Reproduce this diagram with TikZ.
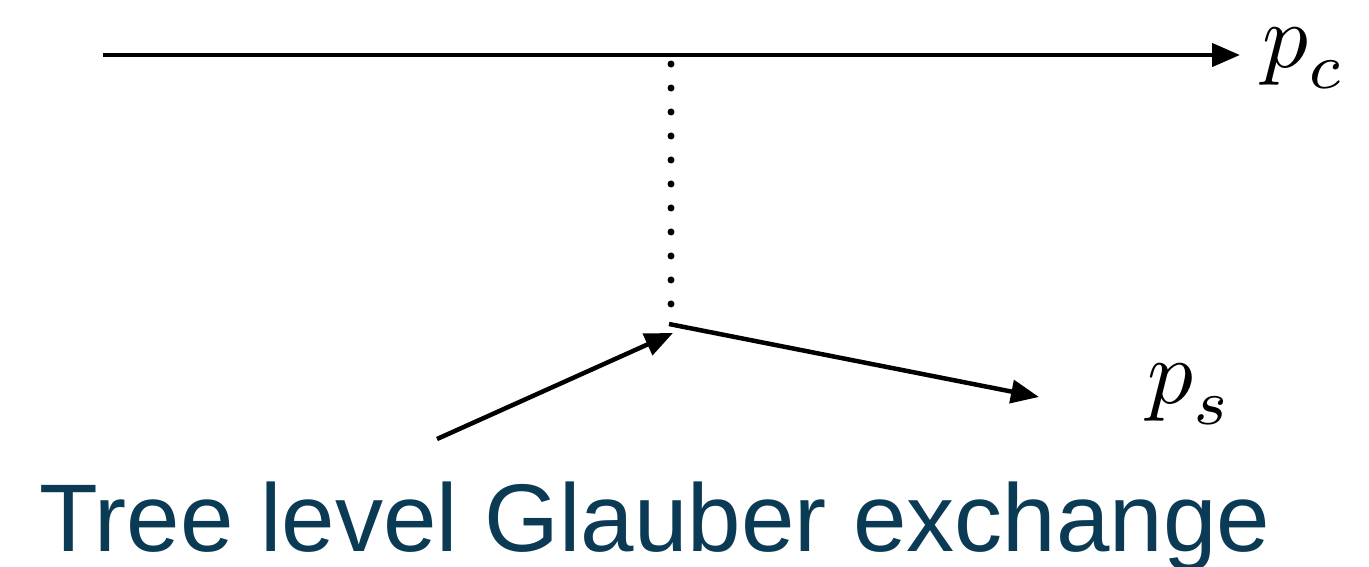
\documentclass[tikz,border=0pt]{standalone}
\usepackage{fontspec}
\setmainfont{Liberation Sans}
\usepackage{graphicx}
\usepackage{xcolor}
\usetikzlibrary{arrows.meta, positioning}

\definecolor{glaubertext}{HTML}{0B3A55}

\newcommand{\mom}[1]{\scalebox{5.2}{$p_{\lower0.9pt\hbox{$\scriptstyle #1$}}$}}

\begin{document}
\begin{tikzpicture}[
    x=0.02cm, y=-0.02cm,
    arr/.style={-{Triangle[length=5.6mm, width=4.6mm]}, line width=0.09cm, black},
    glauber/.style={line width=0.14cm, line cap=round, dash pattern=on 0pt off 0.48cm},
    lbl/.style={inner sep=0pt, anchor=base west},
  ]
    \useasboundingbox (0,0) rectangle (1369,566);

    % collinear line
    \coordinate (cin)  at (103,55);
    \coordinate (cout) at (1240,55);
    \draw[arr] (cin) -- (cout);
    \node[lbl] (pc) at (1262,67) {\mom{c}};

    % Glauber exchange
    \coordinate (gtop) at (671,64);
    \coordinate (gbot) at (671,304);
    \draw[glauber] (gtop) -- (gbot);

    % soft line
    \coordinate (sin)  at (437,439);
    \coordinate (sv)   at (673,333);
    \coordinate (sv2)  at (669,324);
    \coordinate (sout) at (1039,397);
    \draw[arr] (sin) -- (sv);
    \draw[arr] (sv2) -- (sout);
    \node[lbl] (ps) at (1147,403) {\mom{s}};

    \node[inner sep=0pt, anchor=base, text=glaubertext,
          font=\fontsize{54.7}{60}\selectfont] (title) at (655,551)
          {Tree level Glauber exchange};
\end{tikzpicture}
\end{document}
